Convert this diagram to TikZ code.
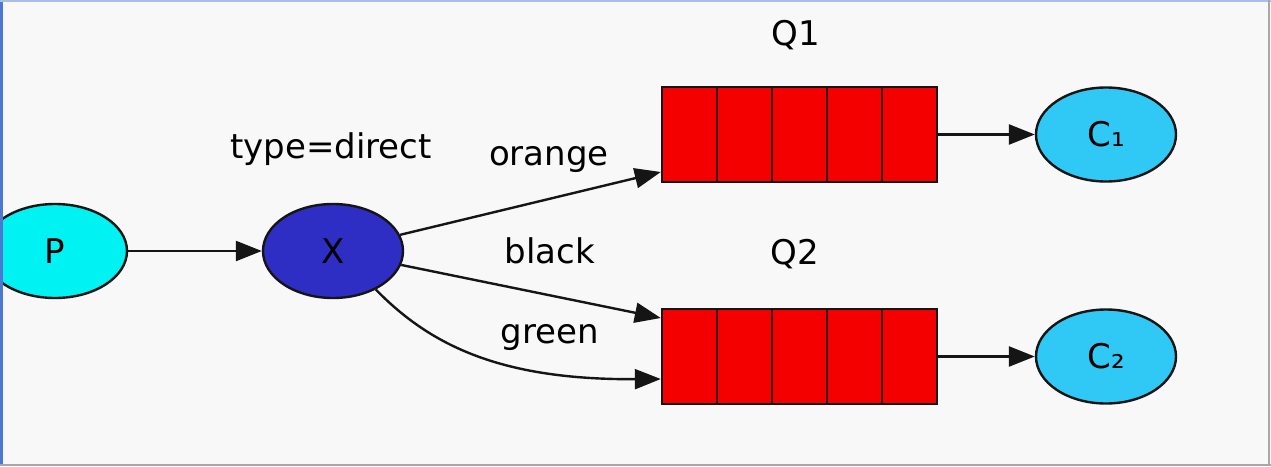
\documentclass[tikz,border=0pt]{standalone}
\usepackage{fontspec}
\setmainfont{DejaVu Sans}
\usetikzlibrary{shapes.geometric,arrows.meta,calc}
\definecolor{bg}{HTML}{F8F8F8}
\definecolor{pfill}{HTML}{00F2F2}
\definecolor{xfill}{HTML}{2E2EC4}
\definecolor{cfill}{HTML}{30C8F4}
\definecolor{qred}{HTML}{F40000}
\definecolor{edgecol}{HTML}{151515}
\definecolor{frameblue}{HTML}{4C78D0}
\definecolor{frametop}{HTML}{A8C0E8}
\definecolor{framegray}{HTML}{A8A8A8}
\begin{document}
\begin{tikzpicture}[x=1pt,y=-1pt,
  every node/.style={font=\fontsize{34}{40}\selectfont},
  oval/.style={ellipse, draw=edgecol, line width=2.4pt, minimum width=140pt, minimum height=94pt, inner sep=0pt},
  queue/.style={rectangle, draw=edgecol, line width=2.4pt, fill=qred, minimum width=275pt, minimum height=95pt, inner sep=0pt,
    path picture={\foreach \i in {1,2,3,4}{\draw[line width=2.4pt, draw=edgecol!85!qred]
      ($(path picture bounding box.north west)!\i/5!(path picture bounding box.north east)$) --
      ($(path picture bounding box.south west)!\i/5!(path picture bounding box.south east)$);}}},
  edge/.style={draw=edgecol, line width=2.4pt, -{Triangle[length=26pt,width=20pt]}},
  lbl/.style={anchor=base, inner sep=0pt, text=black}
]
\useasboundingbox (0,0) rectangle (1271,466);
\fill[bg] (0,0) rectangle (1271,466);
\begin{scope}
\clip (0,0) rectangle (1271,466);
\node[oval, fill=pfill, minimum width=144pt] (P) at (55,251) {P};
\node[oval, fill=xfill] (X) at (333,251) {X};
\node[queue] (Q1) at (799.5,134.5) {};
\node[queue] (Q2) at (799.5,356.5) {};
\node[oval, fill=cfill] (C1) at (1106,134.5) {C₁};
\node[oval, fill=cfill] (C2) at (1106,356.5) {C₂};
\coordinate (q1in) at ($(Q1.west)+(0,37.5)$);
\coordinate (q2a) at ($(Q2.west)+(0,-38.5)$);
\coordinate (q2b) at ($(Q2.west)+(0,22.5)$);
\draw[edge] (P) -- (X);
\draw[edge] (X) -- (q1in);
\draw[edge] (X) -- (q2a);
\draw[edge] (X.-42) .. controls (430,345) and (500,380) .. (q2b);
\draw[edge] (Q1) -- (C1);
\draw[edge] (Q2) -- (C2);
\node[lbl] (tlab) at (331,158) {type=direct};
\node[lbl] (olab) at (549,165) {orange};
\node[lbl] (blab) at (550,263) {black};
\node[lbl] (glab) at (550,343) {green};
\node[lbl] (q1lab) at (796,45) {Q1};
\node[lbl] (q2lab) at (795,264) {Q2};
\end{scope}
\draw[frameblue, line width=3pt] (1.5,0) -- (1.5,466);
\draw[frametop, line width=1.5pt] (0,0.75) -- (1271,0.75);
\draw[framegray, line width=2pt] (1268.5,0) -- (1268.5,466);
\draw[framegray, line width=2pt] (0,464.5) -- (1271,464.5);
\end{tikzpicture}
\end{document}
